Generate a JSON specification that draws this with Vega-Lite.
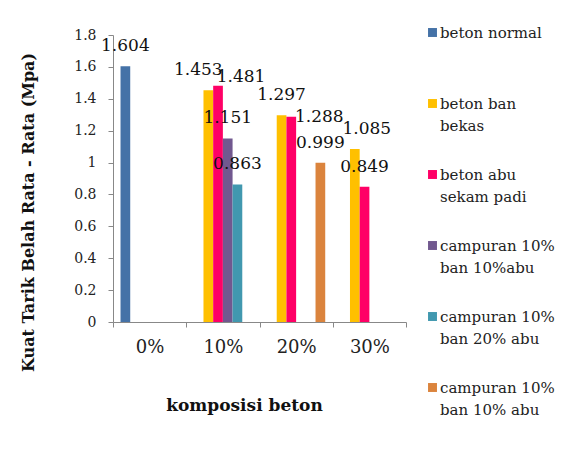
{
  "$schema": "https://vega.github.io/schema/vega-lite/v6.json",
  "width": 293,
  "height": 287,
  "autosize": "none",
  "padding": {"left": 113, "top": 35, "right": 155, "bottom": 137},
  "background": "white",
  "config": {
    "view": {"stroke": null},
    "font": "DejaVu Serif",
    "axis": {"grid": false, "domainColor": "#888888", "tickColor": "#888888", "labelColor": "#222222", "labelFont": "DejaVu Serif", "titleFont": "DejaVu Serif", "titleColor": "#111111", "titleFontWeight": "bold"}
  },
  "data": {
    "values": [
      {"komposisi": "0%", "seri": "beton normal", "nilai": 1.604},
      {"komposisi": "10%", "seri": "beton ban bekas", "nilai": 1.453},
      {"komposisi": "10%", "seri": "beton abu sekam padi", "nilai": 1.481},
      {"komposisi": "10%", "seri": "campuran 10% ban 10%abu", "nilai": 1.151},
      {"komposisi": "10%", "seri": "campuran 10% ban 20% abu", "nilai": 0.863},
      {"komposisi": "20%", "seri": "beton ban bekas", "nilai": 1.297},
      {"komposisi": "20%", "seri": "beton abu sekam padi", "nilai": 1.288},
      {"komposisi": "20%", "seri": "campuran 10% ban 10% abu", "nilai": 0.999},
      {"komposisi": "30%", "seri": "beton ban bekas", "nilai": 1.085},
      {"komposisi": "30%", "seri": "beton abu sekam padi", "nilai": 0.849}
    ]
  },
  "encoding": {
    "x": {
      "field": "komposisi", "type": "nominal", "sort": ["0%", "10%", "20%", "30%"],
      "scale": {"paddingInner": 0, "paddingOuter": 0},
      "axis": {"title": "komposisi beton", "labelAngle": 0, "labelFontSize": 18, "tickSize": 5, "labelPadding": 11, "tickBand": "extent", "titleX": 131, "titleY": 83, "titleBaseline": "middle", "titleFontSize": 17}
    },
    "xOffset": {
      "field": "seri", "type": "nominal",
      "scale": {"domain": ["beton normal", "beton ban bekas", "beton abu sekam padi", "campuran 10% ban 10%abu", "campuran 10% ban 20% abu", "campuran 10% ban 10% abu"], "paddingInner": 0, "paddingOuter": 0.776}
    },
    "y": {
      "field": "nilai", "type": "quantitative",
      "scale": {"domain": [0, 1.8], "nice": false},
      "axis": {"title": "Kuat Tarik Belah Rata - Rata (Mpa)", "values": [0, 0.2, 0.4, 0.6, 0.8, 1, 1.2, 1.4, 1.6, 1.8], "format": "~g", "labelFontSize": 14, "tickSize": 5, "labelPadding": 12, "titleX": -85, "titleY": 177, "titleBaseline": "middle", "titleFontSize": 16}
    }
  },
  "layer": [
    {
      "mark": {"type": "bar"},
      "encoding": {
        "color": {
          "field": "seri", "type": "nominal",
          "scale": {"domain": ["beton normal", "beton ban bekas", "beton abu sekam padi", "campuran 10% ban 10%abu", "campuran 10% ban 20% abu", "campuran 10% ban 10% abu"], "range": ["#4572A7", "#FFC000", "#FF0066", "#71588F", "#4198AF", "#DB843D"]},
          "legend": {
            "title": null, "orient": "none", "legendX": 312, "legendY": -10,
            "symbolType": "square", "symbolSize": 80, "symbolStrokeWidth": 0,
            "labelFont": "DejaVu Serif", "labelFontSize": 15, "labelColor": "#222222", "labelLimit": 200, "labelOffset": 0,
            "labelBaseline": "top",
            "rowPadding": 33,
            "labelExpr": "datum.label == 'beton ban bekas' ? ['beton ban','bekas'] : datum.label == 'beton abu sekam padi' ? ['beton abu','sekam padi'] : datum.label == 'campuran 10% ban 10%abu' ? ['campuran 10%','ban 10%abu'] : datum.label == 'campuran 10% ban 20% abu' ? ['campuran 10%','ban 20% abu'] : datum.label == 'campuran 10% ban 10% abu' ? ['campuran 10%','ban 10% abu'] : [datum.label, ' ']",
            "encode": {"labels": {"update": {"lineHeight": {"value": 22}, "dy": {"value": -7}}}}
          }
        }
      }
    },
    {
      "transform": [{"filter": "datum.nilai != 1.453 && datum.nilai != 1.481 && datum.nilai != 1.288 && datum.nilai != 1.085"}],
      "mark": {"type": "text", "dy": -20, "baseline": "middle", "fontSize": 17, "color": "#111111"},
      "encoding": {"text": {"field": "nilai", "type": "quantitative", "format": ".3f"}}
    },
    {
      "transform": [{"filter": "datum.nilai == 1.453"}],
      "mark": {"type": "text", "dy": -20, "dx": -10, "baseline": "middle", "fontSize": 17, "color": "#111111"},
      "encoding": {"text": {"field": "nilai", "type": "quantitative", "format": ".3f"}}
    },
    {
      "transform": [{"filter": "datum.nilai == 1.481"}],
      "mark": {"type": "text", "dy": -9, "dx": 23, "baseline": "middle", "fontSize": 17, "color": "#111111"},
      "encoding": {"text": {"field": "nilai", "type": "quantitative", "format": ".3f"}}
    },
    {
      "transform": [{"filter": "datum.nilai == 1.288"}],
      "mark": {"type": "text", "dy": 0, "dx": 28, "baseline": "middle", "fontSize": 17, "color": "#111111"},
      "encoding": {"text": {"field": "nilai", "type": "quantitative", "format": ".3f"}}
    },
    {
      "transform": [{"filter": "datum.nilai == 1.085"}],
      "mark": {"type": "text", "dy": -20, "dx": 12, "baseline": "middle", "fontSize": 17, "color": "#111111"},
      "encoding": {"text": {"field": "nilai", "type": "quantitative", "format": ".3f"}}
    }
  ]
}
